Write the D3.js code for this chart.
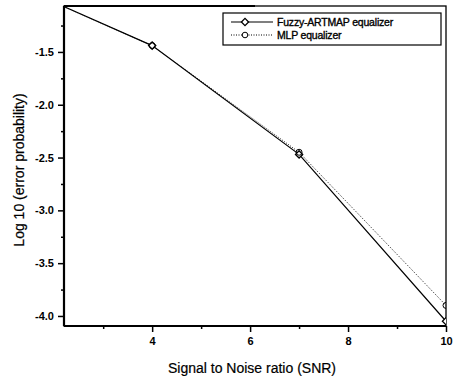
<!DOCTYPE html>
<html lang="en">
<head>
<meta charset="UTF-8">
<title>Fuzzy-ARTMAP vs MLP equalizer</title>
<script src="https://d3js.org/d3.v7.min.js"></script>
<style>
  body { margin: 0; background: #fff; }
  text { font-family: "Liberation Sans", Arial, sans-serif; fill: #000; }
</style>
</head>
<body>
<div id="chart"></div>
<script>
// data
const snr = [2, 4, 7, 10];
const fuzzyArtmap = [-1.03, -1.44, -2.47, -4.05];
const mlp = [-1.03, -1.44, -2.45, -3.9];
const xTicks = [4, 6, 8, 10];
const yTicks = [-1.5, -2.0, -2.5, -3.0, -3.5, -4.0];
const seriesNames = ["Fuzzy-ARTMAP equalizer", "MLP equalizer"];

const W = 455, H = 379;
const margin = {top: 6, right: 9, bottom: 53, left: 64};
const width = W - margin.left - margin.right,
      height = H - margin.top - margin.bottom;

const svg = d3.select("#chart").append("svg")
    .attr("width", W).attr("height", H);

const g = svg.append("g")
    .attr("transform", `translate(${margin.left},${margin.top})`);

const x = d3.scaleLinear().domain([2.2, 10]).range([0, width]);
const y = d3.scaleLinear().domain([-4.095, -1.065]).range([height, 0]);

// clip
svg.append("defs").append("clipPath").attr("id", "clip")
    .append("rect").attr("width", width).attr("height", height);

// minor ticks
const xMinor = [3, 5, 7, 9];
const yMinor = [-1.25, -1.75, -2.25, -2.75, -3.25, -3.75];

// x axis
const xAxis = g.append("g")
    .attr("transform", `translate(0,${height})`)
    .call(d3.axisBottom(x).tickValues(xTicks).tickFormat(d3.format("d")).tickSize(6).tickPadding(5));
xAxis.select(".domain").remove();
xAxis.selectAll("line").attr("stroke-width", 1.5);
xAxis.selectAll("text").style("font-size", "11px").style("font-weight", "bold").style("font-family", "Liberation Sans, Arial, sans-serif");
g.append("g").attr("transform", `translate(0,${height})`)
    .call(d3.axisBottom(x).tickValues(xMinor).tickFormat("").tickSize(3))
    .call(a => a.select(".domain").remove())
    .selectAll("line").attr("stroke-width", 1.5);

// y axis
const yAxis = g.append("g")
    .call(d3.axisLeft(y).tickValues(yTicks).tickFormat(d3.format(".1f")).tickSize(6).tickPadding(4));
yAxis.select(".domain").remove();
yAxis.selectAll("line").attr("stroke-width", 1.5);
yAxis.selectAll("text").style("font-size", "11px").style("font-weight", "bold").style("font-family", "Liberation Sans, Arial, sans-serif")
    .text(d => d3.format(".1f")(d).replace("−", "-"));
g.append("g")
    .call(d3.axisLeft(y).tickValues(yMinor).tickFormat("").tickSize(3))
    .call(a => a.select(".domain").remove())
    .selectAll("line").attr("stroke-width", 1.5);

// frame
g.append("rect").attr("width", width).attr("height", height)
    .attr("fill", "none").attr("stroke", "#000").attr("stroke-width", 1.3);
g.append("line").attr("x1", 0).attr("x2", width).attr("y1", height).attr("y2", height)
    .attr("stroke", "#000").attr("stroke-width", 2.2);
g.append("line").attr("x1", 0).attr("x2", 0).attr("y1", 0).attr("y2", height)
    .attr("stroke", "#000").attr("stroke-width", 2.2);
g.append("line").attr("x1", 0).attr("x2", width * 0.5).attr("y1", 0).attr("y2", 0)
    .attr("stroke", "#000").attr("stroke-width", 2.2);

// lines
const plot = g.append("g").attr("clip-path", "url(#clip)");
const line = d3.line().x(d => x(d[0])).y(d => y(d[1]));
const fuzzyPts = snr.map((s, i) => [s, fuzzyArtmap[i]]);
const mlpPts = snr.map((s, i) => [s, mlp[i]]);

plot.append("path").datum(mlpPts).attr("d", line)
    .attr("fill", "none").attr("stroke", "#222").attr("stroke-width", 1)
    .attr("stroke-dasharray", "1,1.5");
plot.append("path").datum(fuzzyPts).attr("d", line)
    .attr("fill", "none").attr("stroke", "#000").attr("stroke-width", 1.2);

// diamond = rotated square
const diamond = d3.symbol().type(d3.symbolSquare).size(26);
plot.selectAll(".fz").data(fuzzyPts).enter().append("path")
    .attr("transform", d => `translate(${x(d[0])},${y(d[1])}) rotate(45)`)
    .attr("d", diamond).attr("fill", "#fff").attr("stroke", "#000").attr("stroke-width", 1.3);
plot.selectAll(".ml").data(mlpPts).enter().append("circle")
    .attr("cx", d => x(d[0])).attr("cy", d => y(d[1])).attr("r", 3)
    .attr("fill", "none").attr("stroke", "#000").attr("stroke-width", 1);

// legend
const lg = svg.append("g");
lg.append("rect").attr("x", 223).attr("y", 13).attr("width", 218).attr("height", 32)
    .attr("fill", "#fff").attr("stroke", "#000").attr("stroke-width", 1.2);
const rows = [22, 35];
seriesNames.forEach((name, i) => {
    const yy = rows[i];
    lg.append("line").attr("x1", 231).attr("x2", 273).attr("y1", yy).attr("y2", yy)
        .attr("stroke", "#000").attr("stroke-width", i === 0 ? 1.2 : 1)
        .attr("stroke-dasharray", i === 0 ? null : "1,1.5");
    if (i === 0) {
        lg.append("path").attr("transform", `translate(245,${yy}) rotate(45)`).attr("d", diamond)
            .attr("fill", "#fff").attr("stroke", "#000").attr("stroke-width", 1.3);
    } else {
        lg.append("circle").attr("cx", 245).attr("cy", yy).attr("r", 2.8)
            .attr("fill", "#fff").attr("stroke", "#000");
    }
    lg.append("text").attr("x", 277).attr("y", yy).attr("dy", "0.35em")
        .style("font-size", "10.5px").style("letter-spacing", "-0.2px")
        .attr("stroke", "#000").attr("stroke-width", 0.35).text(name);
});

// axis titles
svg.append("text").attr("x", 252).attr("y", 373).attr("text-anchor", "middle")
    .style("font-size", "14px").attr("stroke", "#000").attr("stroke-width", 0.2)
    .text("Signal to Noise  ratio (SNR)");
svg.append("text").attr("transform", "translate(24,170) rotate(-90)").attr("text-anchor", "middle")
    .style("font-size", "14px").attr("stroke", "#000").attr("stroke-width", 0.2)
    .text("Log 10 (error probability)");
</script>
</body>
</html>
